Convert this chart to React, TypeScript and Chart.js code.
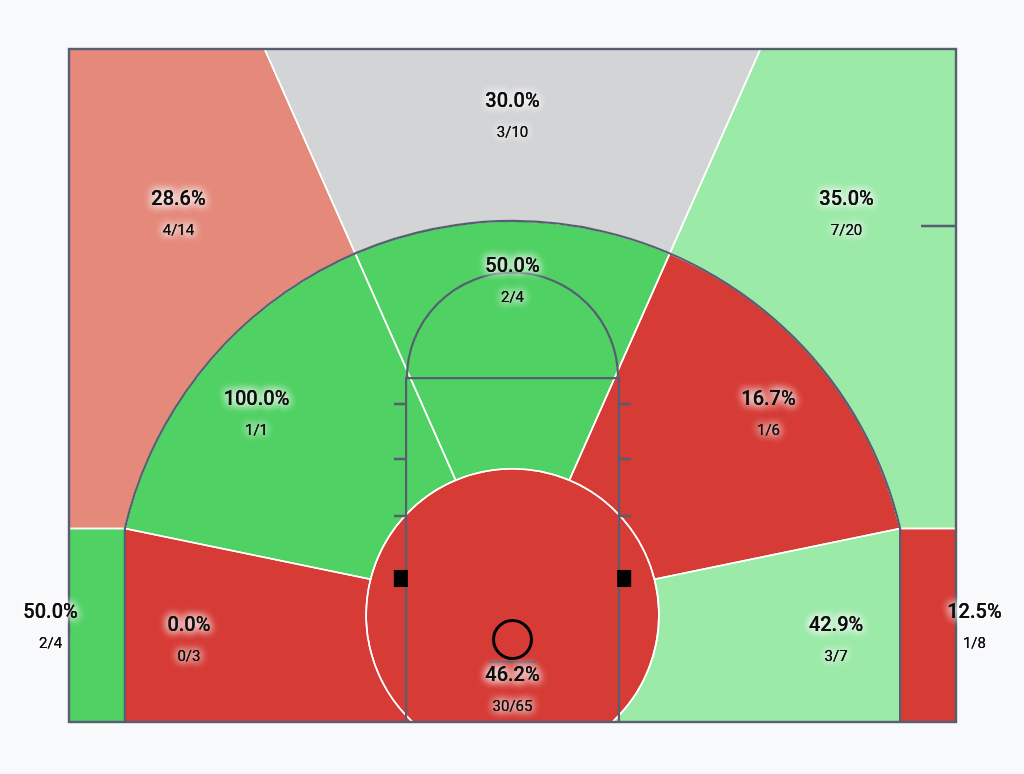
import React, { useEffect, useRef } from 'react';
import { Chart, registerables } from 'chart.js';

Chart.register(...registerables);

// ---- data ----
const ZONES = [
  'Left Corner 3', 'Left Wing 3', 'Top 3', 'Right Wing 3', 'Right Corner 3',
  'Left Mid', 'Top Mid', 'Right Mid', 'Left Baseline Mid', 'Right Baseline Mid', 'Restricted Area',
];
const MADE = [2, 4, 3, 7, 1, 1, 2, 1, 0, 3, 30];
const ATTEMPTS = [4, 14, 10, 20, 8, 1, 4, 6, 3, 7, 65];
const ZONE_COLORS = [
  '#4fd163', '#e58a7b', '#d3d4d6', '#9beaa8', '#d63b36',
  '#4fd163', '#4fd163', '#d63b36', '#d63b36', '#9beaa8', '#d63b36',
];
// label anchors in court feet (x from centre, y from baseline)
const LABEL_X = [-26.04, -18.83, 0, 18.83, 26.04, -14.43, 0, 14.43, -18.24, 18.24, 0];
const LABEL_Y = [6.26, 29.54, 35.06, 29.54, 6.26, 18.24, 25.76, 18.24, 5.52, 5.52, 2.68];

// ---- court geometry (feet) ----
const HALF_WIDTH = 25;
const COURT_DEPTH = 37.94;
const ARC_CENTER_Y = 5.8;
const ARC_RADIUS = 22.44;
const CORNER_X = 21.85;
const RIM_ZONE_Y = 6.03;
const RIM_ZONE_R = 8.25;
const RAY_ORIGIN_Y = 6.4;
const RAY_UPPER_DEG = 113.9;
const LANE_HALF = 6;
const FT_LINE_Y = 19.39;
const FT_CIRCLE_R = 5.95;
const LANE_TICKS_Y = [11.61, 14.83, 17.93];
const TICK_LEN = 0.68;
const BLOCK_Y0 = 7.61;
const BLOCK_Y1 = 8.57;
const BLOCK_W = 0.79;
const HOOP_Y = 4.65;
const HOOP_R = 1.07;
const BACKBOARD_Y = 3.38;
const BACKBOARD_HALF = 1.33;
const HASH_Y = 27.96;
const HASH_X0 = 23.03;

const LINE_COLOR = '#565e70';

const courtPlugin = {
  id: 'court',
  beforeDatasetsDraw(chart: any) {
    const { ctx, chartArea } = chart;
    const xs = chart.scales.x;
    const ys = chart.scales.y;
    const X = (v: number) => xs.getPixelForValue(v);
    const Y = (v: number) => ys.getPixelForValue(v);
    const K = X(1) - X(0);
    const M = (x: number, y: number) => ctx.moveTo(X(x), Y(y));
    const L = (x: number, y: number) => ctx.lineTo(X(x), Y(y));
    const A = (cx: number, cy: number, r: number, a0: number, a1: number) =>
      ctx.arc(X(cx), Y(cy), r * K, -a0, -a1, a1 > a0);

    const yc = ARC_CENTER_Y + Math.sqrt(ARC_RADIUS * ARC_RADIUS - CORNER_X * CORNER_X);
    const thCL = Math.atan2(yc - ARC_CENTER_Y, -CORNER_X);
    const thCR = Math.atan2(yc - ARC_CENTER_Y, CORNER_X);
    const rayHit = (ang: number, cy: number, r: number): [number, number] => {
      const dx = Math.cos(ang);
      const dy = Math.sin(ang);
      const oy = RAY_ORIGIN_Y - cy;
      const b = dy * oy;
      const t = -b + Math.sqrt(b * b - (oy * oy - r * r));
      return [t * dx, RAY_ORIGIN_Y + t * dy];
    };
    const angOn = (p: [number, number], cy: number) => Math.atan2(p[1] - cy, p[0]);
    const aUL = (RAY_UPPER_DEG * Math.PI) / 180;
    const aUR = Math.PI - aUL;
    const aLL = Math.atan2(yc - RAY_ORIGIN_Y, -CORNER_X);
    const aLR = Math.PI - aLL;
    const PUL = rayHit(aUL, ARC_CENTER_Y, ARC_RADIUS);
    const PUR = rayHit(aUR, ARC_CENTER_Y, ARC_RADIUS);
    const tPUL = angOn(PUL, ARC_CENTER_Y);
    const tPUR = angOn(PUR, ARC_CENTER_Y);
    const topT = (ang: number): [number, number] => {
      const t = (COURT_DEPTH - RAY_ORIGIN_Y) / Math.sin(ang);
      return [t * Math.cos(ang), COURT_DEPTH];
    };
    const TUL = topT(aUL);
    const TUR = topT(aUR);
    const QUL = rayHit(aUL, RIM_ZONE_Y, RIM_ZONE_R);
    const QUR = rayHit(aUR, RIM_ZONE_Y, RIM_ZONE_R);
    const QLL = rayHit(aLL, RIM_ZONE_Y, RIM_ZONE_R);
    const QLR = rayHit(aLR, RIM_ZONE_Y, RIM_ZONE_R);
    const qUL = angOn(QUL, RIM_ZONE_Y);
    const qUR = angOn(QUR, RIM_ZONE_Y);
    const qLL = angOn(QLL, RIM_ZONE_Y);
    const qLR = angOn(QLR, RIM_ZONE_Y);
    const xb = Math.sqrt(RIM_ZONE_R * RIM_ZONE_R - RIM_ZONE_Y * RIM_ZONE_Y);
    const bL = Math.atan2(-RIM_ZONE_Y, -xb) + Math.PI * 2;
    const bR = Math.atan2(-RIM_ZONE_Y, xb);
    const W = HALF_WIDTH;
    const T = COURT_DEPTH;

    const paths: Array<() => void> = [
      () => { M(-W, 0); L(-CORNER_X, 0); L(-CORNER_X, yc); L(-W, yc); },
      () => { M(-W, yc); L(-CORNER_X, yc); A(0, ARC_CENTER_Y, ARC_RADIUS, thCL, tPUL); L(TUL[0], TUL[1]); L(-W, T); },
      () => { M(TUL[0], TUL[1]); L(PUL[0], PUL[1]); A(0, ARC_CENTER_Y, ARC_RADIUS, tPUL, tPUR); L(TUR[0], TUR[1]); },
      () => { M(W, yc); L(CORNER_X, yc); A(0, ARC_CENTER_Y, ARC_RADIUS, thCR, tPUR); L(TUR[0], TUR[1]); L(W, T); },
      () => { M(W, 0); L(CORNER_X, 0); L(CORNER_X, yc); L(W, yc); },
      () => { M(-CORNER_X, yc); A(0, ARC_CENTER_Y, ARC_RADIUS, thCL, tPUL); L(QUL[0], QUL[1]); A(0, RIM_ZONE_Y, RIM_ZONE_R, qUL, qLL); },
      () => { M(PUL[0], PUL[1]); A(0, ARC_CENTER_Y, ARC_RADIUS, tPUL, tPUR); L(QUR[0], QUR[1]); A(0, RIM_ZONE_Y, RIM_ZONE_R, qUR, qUL); },
      () => { M(CORNER_X, yc); A(0, ARC_CENTER_Y, ARC_RADIUS, thCR, tPUR); L(QUR[0], QUR[1]); A(0, RIM_ZONE_Y, RIM_ZONE_R, qUR, qLR); },
      () => { M(-CORNER_X, yc); L(-CORNER_X, 0); L(-xb, 0); A(0, RIM_ZONE_Y, RIM_ZONE_R, bL, qLL); },
      () => { M(CORNER_X, yc); L(CORNER_X, 0); L(xb, 0); A(0, RIM_ZONE_Y, RIM_ZONE_R, bR, qLR); },
      () => { M(-xb, 0); A(0, RIM_ZONE_Y, RIM_ZONE_R, bL, bR); },
    ];

    ctx.save();
    ctx.beginPath();
    ctx.rect(chartArea.left, chartArea.top, chartArea.right - chartArea.left, chartArea.bottom - chartArea.top);
    ctx.clip();
    ZONES.forEach((_, i) => {
      ctx.beginPath();
      paths[i]();
      ctx.closePath();
      ctx.fillStyle = ZONE_COLORS[i];
      ctx.fill();
    });
    ctx.strokeStyle = '#ffffff';
    ctx.lineWidth = 1.6;
    ctx.lineJoin = 'round';
    ZONES.forEach((_, i) => {
      ctx.beginPath();
      paths[i]();
      ctx.closePath();
      ctx.stroke();
    });
    ctx.restore();

    // court lines
    ctx.save();
    ctx.strokeStyle = LINE_COLOR;
    ctx.lineWidth = 2.2;
    ctx.lineCap = 'butt';
    ctx.beginPath();
    M(-CORNER_X, 0); L(-CORNER_X, yc);
    A(0, ARC_CENTER_Y, ARC_RADIUS, thCL, thCR);
    L(CORNER_X, 0);
    ctx.stroke();
    ctx.beginPath();
    M(-LANE_HALF, 0); L(-LANE_HALF, FT_LINE_Y); L(LANE_HALF, FT_LINE_Y); L(LANE_HALF, 0);
    ctx.stroke();
    ctx.beginPath();
    A(0, FT_LINE_Y, FT_CIRCLE_R, Math.PI, 0);
    ctx.stroke();
    ctx.lineWidth = 2.6;
    LANE_TICKS_Y.forEach((ty) => {
      ctx.beginPath();
      M(-LANE_HALF - TICK_LEN, ty); L(-LANE_HALF, ty);
      M(LANE_HALF, ty); L(LANE_HALF + TICK_LEN, ty);
      ctx.stroke();
    });
    ctx.lineWidth = 2.4;
    ctx.beginPath();
    M(HASH_X0, HASH_Y); L(W, HASH_Y);
    ctx.stroke();
    ctx.fillStyle = '#000000';
    [-1, 1].forEach((s) => {
      const x0 = s < 0 ? -LANE_HALF - BLOCK_W + 0.1 : LANE_HALF - 0.1;
      ctx.fillRect(X(x0), Y(BLOCK_Y1), BLOCK_W * K, Y(BLOCK_Y0) - Y(BLOCK_Y1));
    });
    ctx.lineWidth = 2;
    ctx.beginPath();
    M(-BACKBOARD_HALF, BACKBOARD_Y); L(BACKBOARD_HALF, BACKBOARD_Y);
    ctx.stroke();
    ctx.strokeStyle = '#000000';
    ctx.lineWidth = 3;
    ctx.beginPath();
    A(0, HOOP_Y, HOOP_R, 0, Math.PI * 2 - 0.0001);
    ctx.stroke();
    ctx.strokeStyle = LINE_COLOR;
    ctx.lineWidth = 2.4;
    ctx.strokeRect(chartArea.left, chartArea.top, chartArea.right - chartArea.left, chartArea.bottom - chartArea.top);
    ctx.restore();
  },
  afterDatasetsDraw(chart: any) {
    const { ctx } = chart;
    const meta = chart.getDatasetMeta(0);
    ctx.save();
    ctx.textAlign = 'center';
    ctx.textBaseline = 'middle';
    meta.data.forEach((pt: any, i: number) => {
      const pct = ((MADE[i] / ATTEMPTS[i]) * 100).toFixed(1) + '%';
      const frac = `${MADE[i]}/${ATTEMPTS[i]}`;
      ctx.shadowColor = 'rgba(255,255,255,1)';
      ctx.shadowBlur = 10;
      ctx.fillStyle = '#0d0d0d';
      for (let k = 0; k < 3; k++) {
        ctx.font = '500 20px Roboto';
        ctx.fillText(pct, pt.x, pt.y + 2);
        ctx.font = '400 15px Roboto';
        ctx.fillText(frac, pt.x, pt.y + 33);
      }
    });
    ctx.restore();
  },
};

export default function App() {
  const canvasRef = useRef<HTMLCanvasElement | null>(null);

  useEffect(() => {
    document.body.style.margin = '0';
    document.body.style.background = '#f8f9fb';
    const canvas = canvasRef.current;
    if (!canvas) return;
    const chart = new Chart(canvas, {
      type: 'scatter',
      data: {
        datasets: [
          {
            label: 'Zones',
            data: ZONES.map((_, i) => ({ x: LABEL_X[i], y: LABEL_Y[i] })),
            pointRadius: 0,
            pointHoverRadius: 0,
            clip: false as any,
          },
        ],
      },
      options: {
        animation: false,
        responsive: true,
        maintainAspectRatio: false,
        layout: { padding: { left: 69, top: 49, right: 68, bottom: 52 } },
        scales: {
          x: { type: 'linear', min: -HALF_WIDTH, max: HALF_WIDTH, display: false },
          y: { type: 'linear', min: 0, max: COURT_DEPTH, display: false },
        },
        plugins: {
          legend: { display: false },
          tooltip: { enabled: false },
        },
      },
      plugins: [courtPlugin],
    });
    return () => chart.destroy();
  }, []);

  return (
    <div style={{ width: 1024, height: 774, position: 'relative', background: '#f8f9fb' }}>
      <canvas ref={canvasRef} />
    </div>
  );
}
